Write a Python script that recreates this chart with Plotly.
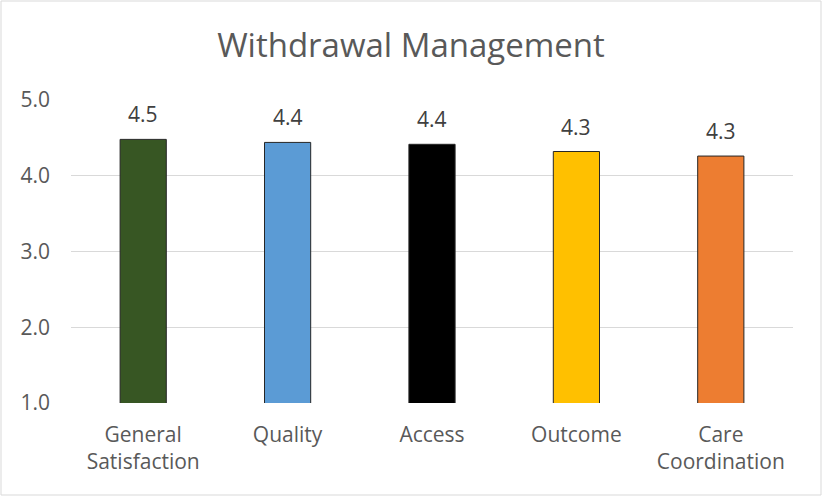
import plotly.graph_objects as go

# Survey domain scores (1-5 scale)
categories = ["General<br>Satisfaction", "Quality", "Access", "Outcome", "Care<br>Coordination"]
scores = [4.48, 4.44, 4.415, 4.32, 4.26]
bar_colors = ["#375623", "#5B9BD5", "#000000", "#FFC000", "#ED7D31"]
y_ticks = [1.0, 2.0, 3.0, 4.0, 5.0]

W, H = 822, 496
ML, MR, MT, MB = 71, 29, 100, 93
FONT = "Open Sans"
FS = 21

fig = go.Figure(
    go.Bar(
        x=categories,
        y=scores,
        marker=dict(color=bar_colors, line=dict(color="#262626", width=1)),
        width=0.32,
        hoverinfo="skip",
    )
)

# value labels above each bar
for c, v in zip(categories, scores):
    fig.add_annotation(
        x=c, y=v, text=f"{v:.1f}", showarrow=False,
        yanchor="bottom", yshift=9,
        font=dict(family=FONT, size=FS, color="#404040"),
    )

# thin outer frame around the chart area
pw, ph = W - ML - MR, H - MT - MB
fig.add_shape(
    type="rect", xref="paper", yref="paper",
    x0=-(ML - 1) / pw, x1=1 + (MR - 1) / pw,
    y0=-(MB - 1) / ph, y1=1 + (MT - 1) / ph,
    line=dict(color="#D9D9D9", width=1), fillcolor="rgba(0,0,0,0)",
)

fig.update_layout(
    width=W, height=H,
    margin=dict(l=ML, r=MR, t=MT, b=MB),
    paper_bgcolor="white", plot_bgcolor="white",
    showlegend=False,
    title=dict(
        text="Withdrawal Management", x=0.5, xanchor="center",
        y=1 - 45 / H, yanchor="middle",
        font=dict(family=FONT, size=33, color="#595959"),
    ),
    font=dict(family=FONT, size=FS, color="#595959"),
    xaxis=dict(
        showgrid=False, showline=False, ticks="",
        ticklabelstandoff=17,
        tickfont=dict(family=FONT, size=FS, color="#595959"),
    ),
    yaxis=dict(
        range=[1, 5], tickvals=y_ticks, tickformat=".1f",
        showgrid=True, gridcolor="#D9D9D9", gridwidth=1,
        zeroline=False, showline=False, ticks="",
        ticklabelstandoff=20,
        tickfont=dict(family=FONT, size=FS, color="#595959"),
    ),
)

fig.write_html("out.html")
